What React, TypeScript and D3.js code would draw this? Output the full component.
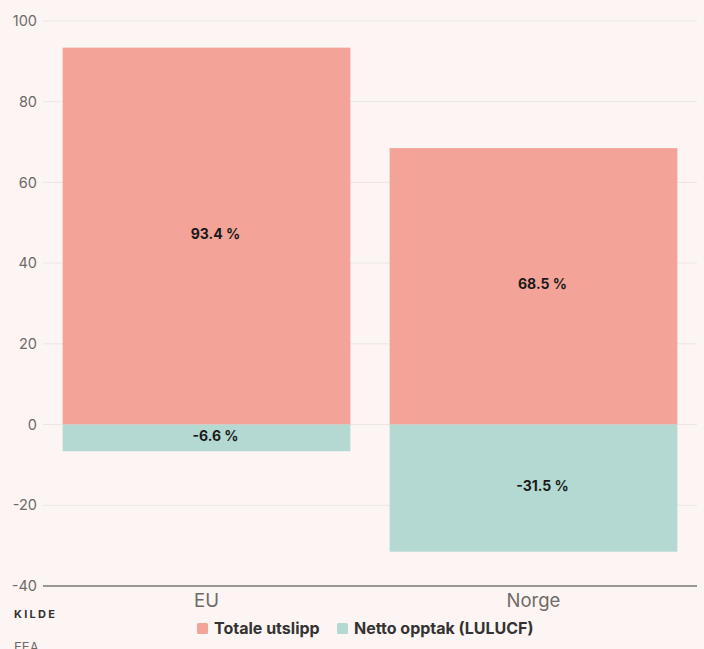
import React from "react";
import * as d3 from "d3";

const categories = ["EU", "Norge"];
const totaleUtslipp = [93.4, 68.5];
const nettoOpptak = [-6.6, -31.5];
const yTicks = [-40, -20, 0, 20, 40, 60, 80, 100];
const seriesNames = ["Totale utslipp", "Netto opptak (LULUCF)"];
const seriesColors = ["#f3a397", "#b3d9d2"];

const W = 704;
const H = 649;
const left = 43;
const right = 697;
const top = 21;
const bottom = 586;
const font = "Inter, Lato, sans-serif";

export default function App() {
  const x = d3
    .scaleBand<string>()
    .domain(categories)
    .range([left, right])
    .paddingInner(0.12)
    .paddingOuter(0.06);
  const y = d3.scaleLinear().domain([-40, 100]).range([bottom, top]);

  const fmt = (v: number) => `${v.toFixed(1)} %`;

  return (
    <svg
      width={W}
      height={H}
      style={{ position: "absolute", left: 0, top: 0, background: "#fdf5f3" }}
    >
      <rect x={0} y={0} width={W} height={H} fill="#fdf5f3" />
      {yTicks.map((t) => (
        <g key={t}>
          {t !== -40 && (
            <line x1={left} x2={right} y1={y(t)} y2={y(t)} stroke="#ebe6e3" strokeWidth={1} />
          )}
          <text
            x={37}
            y={y(t)}
            dy="0.35em"
            textAnchor="end"
            fontFamily={font}
            fontSize={14.5}
            fill="#6e6a68"
          >
            {t}
          </text>
        </g>
      ))}
      {categories.map((c, i) => {
        const bx = x(c)!;
        const bw = x.bandwidth();
        const pos = totaleUtslipp[i];
        const neg = nettoOpptak[i];
        return (
          <g key={c}>
            <rect x={bx} y={y(pos)} width={bw} height={y(0) - y(pos)} fill={seriesColors[0]} />
            <rect x={bx} y={y(0)} width={bw} height={y(neg) - y(0)} fill={seriesColors[1]} />
            <text
              x={bx + bw / 2 + 9}
              y={(y(pos) + y(0)) / 2 - 2}
              dy="0.35em"
              textAnchor="middle"
              fontFamily={font}
              fontSize={14}
              fontWeight={700}
              fill="#1a1a1a"
            >
              {fmt(pos)}
            </text>
            <text
              x={bx + bw / 2 + 9}
              y={(y(neg) + y(0)) / 2 - 2}
              dy="0.35em"
              textAnchor="middle"
              fontFamily={font}
              fontSize={14}
              fontWeight={700}
              fill="#1a1a1a"
            >
              {fmt(neg)}
            </text>
            <text
              x={bx + bw / 2}
              y={bottom + 21}
              textAnchor="middle"
              fontFamily={font}
              fontSize={18.5}
              fill="#6e6a68"
            >
              {c}
            </text>
          </g>
        );
      })}
      <line x1={left} x2={right} y1={bottom} y2={bottom} stroke="#7a7573" strokeWidth={1.5} />
      <g>
        <rect x={197} y={623} width={11} height={11} rx={1.5} fill={seriesColors[0]} />
        <text x={214} y={634} fontFamily={font} fontSize={16} fontWeight={700} fill="#333">
          {seriesNames[0]}
        </text>
        <rect x={337} y={623} width={11} height={11} rx={1.5} fill={seriesColors[1]} />
        <text x={354} y={634} fontFamily={font} fontSize={16} fontWeight={700} fill="#333">
          {seriesNames[1]}
        </text>
      </g>
      <text x={14} y={618} fontFamily={font} fontSize={11} fontWeight={700} letterSpacing={2.3} fill="#333">
        KILDE
      </text>
      <text x={14} y={652} fontFamily={font} fontSize={13} fill="#6e6a68">
        EEA
      </text>
    </svg>
  );
}
